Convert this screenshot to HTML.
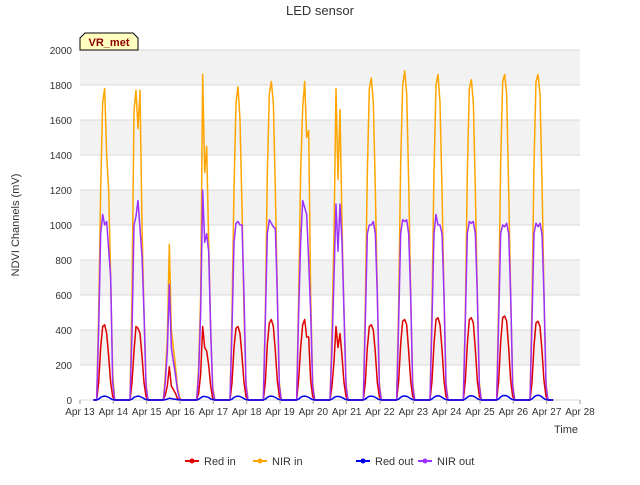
<!DOCTYPE html>
<html><head><meta charset="utf-8"><style>
body{margin:0;background:#fff;font-family:"Liberation Sans",sans-serif}
</style></head><body>
<svg id="c" width="640" height="480" xmlns="http://www.w3.org/2000/svg" font-family="Liberation Sans, sans-serif">
<text x="320" y="15" text-anchor="middle" font-size="13" fill="#333">LED sensor</text>
<g id="bands"></g><g id="grid"></g><g id="series"></g><g id="axes"></g>
<text x="19" y="225" transform="rotate(-90 19 225)" text-anchor="middle" font-size="11" fill="#333">NDVI Channels (mV)</text>
<text x="578" y="433" text-anchor="end" font-size="11" fill="#333">Time</text>
<g>
<path d="M80,50 L80,38 L85,33 L133,33 L138,38 L138,50 Z" fill="#ffffc0" stroke="#000" stroke-width="1"/>
<text x="109" y="46" text-anchor="middle" font-size="11" font-weight="bold" fill="#8b0000">VR_met</text></g>
<g id="legend"></g>
</svg>
<script>
const dayStarts=[13,14,15,16,17,18,19,20,21,22,23,24,25,26];
const offsets=[0.5,0.56,0.62,0.68,0.74,0.8,0.86,0.92,0.98,1.04];
const xTicks=["Apr 13","Apr 14","Apr 15","Apr 16","Apr 17","Apr 18","Apr 19","Apr 20","Apr 21","Apr 22","Apr 23","Apr 24","Apr 25","Apr 26","Apr 27","Apr 28"];
const yTicks=[0,200,400,600,800,1000,1200,1400,1600,1800,2000];
const nirIn=[
[0,500,1200,1700,1780,1400,1200,700,150,0],
[0,600,1650,1770,1550,1770,1000,500,100,0],
[0,150,350,890,400,300,200,80,20,0],
[0,200,600,1860,1300,1450,900,400,80,0],
[0,500,1200,1700,1790,1600,1100,500,100,0],
[0,500,1300,1750,1820,1700,1200,600,100,0],
[0,600,1300,1670,1820,1500,1540,600,100,0],
[0,400,950,1780,1260,1660,1000,500,100,0],
[0,550,1300,1780,1840,1700,1200,600,100,0],
[0,550,1350,1800,1880,1750,1250,600,100,0],
[0,550,1300,1800,1860,1700,1200,600,100,0],
[0,500,1300,1780,1830,1700,1200,600,100,0],
[0,550,1350,1820,1860,1750,1200,600,100,0],
[0,550,1350,1820,1860,1750,1250,600,100,0]];
const nirOut=[
[0,400,950,1060,1000,1020,860,700,100,0],
[0,380,1000,1050,1140,980,820,500,80,0],
[0,100,280,660,300,220,150,60,10,0],
[0,150,500,1200,900,950,850,400,60,0],
[0,400,900,1010,1020,1000,1000,600,80,0],
[0,450,950,1030,1010,990,980,600,80,0],
[0,500,900,1140,1100,1060,800,500,80,0],
[0,300,700,1120,850,1120,900,500,80,0],
[0,450,950,1000,1000,1020,950,600,80,0],
[0,450,950,1030,1020,1030,950,600,80,0],
[0,450,950,1060,1000,1000,950,600,80,0],
[0,450,950,1020,1010,1020,950,600,80,0],
[0,450,950,1000,990,1010,950,600,80,0],
[0,450,950,1010,990,1010,950,600,80,0]];
const redIn=[
[0,100,300,420,430,380,250,100,20,0],
[0,100,280,420,410,380,250,100,20,0],
[0,30,80,190,80,60,40,10,0,0],
[0,40,150,420,300,280,200,80,10,0],
[0,100,300,410,420,380,250,100,20,0],
[0,100,320,440,460,420,280,110,20,0],
[0,120,300,430,460,360,360,110,20,0],
[0,80,220,420,300,380,250,100,20,0],
[0,100,300,420,430,400,270,100,20,0],
[0,110,320,450,460,430,280,110,20,0],
[0,110,320,460,470,430,290,110,20,0],
[0,110,320,460,470,440,290,110,20,0],
[0,110,330,470,480,450,300,110,20,0],
[0,100,310,440,450,420,280,110,20,0]];
const redOut=[
[0,5,15,20,22,20,15,8,2,0],[0,5,15,20,22,20,15,8,2,0],[0,2,5,10,8,6,4,2,0,0],
[0,4,12,20,20,18,14,6,2,0],[0,5,15,20,22,20,15,8,2,0],[0,5,15,21,22,20,15,8,2,0],
[0,5,15,21,22,20,15,8,2,0],[0,5,14,20,20,19,14,8,2,0],[0,5,15,21,22,20,15,8,2,0],
[0,5,15,22,23,21,15,8,2,0],[0,6,16,22,24,22,16,8,2,0],[0,6,16,23,24,22,16,8,2,0],
[0,6,17,25,26,24,17,8,2,0],[0,6,17,25,27,25,17,8,2,0]];
const L=80,R=580,T=50,B=400;
const x=d=>L+(d-13)/15*(R-L), y=v=>B-v/2000*(B-T);
const NS="http://www.w3.org/2000/svg";
function mk(t,a,p){const e=document.createElementNS(NS,t);for(const k in a)e.setAttribute(k,a[k]);p.appendChild(e);return e;}
const bands=document.getElementById('bands'),grid=document.getElementById('grid'),axes=document.getElementById('axes');
mk('rect',{x:L,y:T,width:R-L,height:B-T,fill:'#fff'},bands);
for(let i=0;i<yTicks.length-1;i++){if(i%2===1){const r=mk('rect',{x:L,y:y(yTicks[i+1]),width:R-L,height:y(yTicks[i])-y(yTicks[i+1]),fill:'#f2f2f2'},bands);

}}
yTicks.forEach(v=>{const g=mk('line',{x1:L,x2:R,y1:y(v),y2:y(v),stroke:'#d9d9d9','stroke-width':1},grid);


const t=mk('text',{x:L-8,y:y(v)+4,'text-anchor':'end','font-size':10,fill:'#333'},axes);t.textContent=v;

});
xTicks.forEach((s,i)=>{const xx=x(13+i);mk('line',{x1:xx,x2:xx,y1:B,y2:B+4,stroke:'#999'},axes);
const t=mk('text',{x:xx,y:B+15,'text-anchor':'middle','font-size':10,fill:'#333'},axes);t.textContent=s;

});
const ser=document.getElementById('series');
function draw(data,color,name){let pts=[[x(13.4),y(0)]];data.forEach((vals,i)=>{offsets.forEach((o,j)=>pts.push([x(dayStarts[i]+o),y(vals[j])]));});
pts.push([x(27.2),y(0)]);
const p=mk('polyline',{points:pts.map(q=>q.join(',')).join(' '),fill:'none',stroke:color,'stroke-width':1.5,'stroke-linejoin':'round'},ser);

}
draw(nirIn,'#ffa500','nir-in-line');draw(redIn,'#e00000','red-in-line');draw(nirOut,'#9b30ff','nir-out-line');draw(redOut,'#0000ee','red-out-line');
const leg=document.getElementById('legend');
[["Red in","#e00000",185],["NIR in","#ffa500",253],["Red out","#0000ee",356],["NIR out","#9b30ff",418]].forEach(([n,c,lx])=>{
const g=mk('g',{},leg);


mk('line',{x1:lx,x2:lx+14,y1:461,y2:461,stroke:c,'stroke-width':2},g);
mk('circle',{cx:lx+7,cy:461,r:2.5,fill:c},g);
const t=mk('text',{x:lx+19,y:465,'font-size':11,fill:'#333'},g);t.textContent=n;});
</script>
</body></html>
